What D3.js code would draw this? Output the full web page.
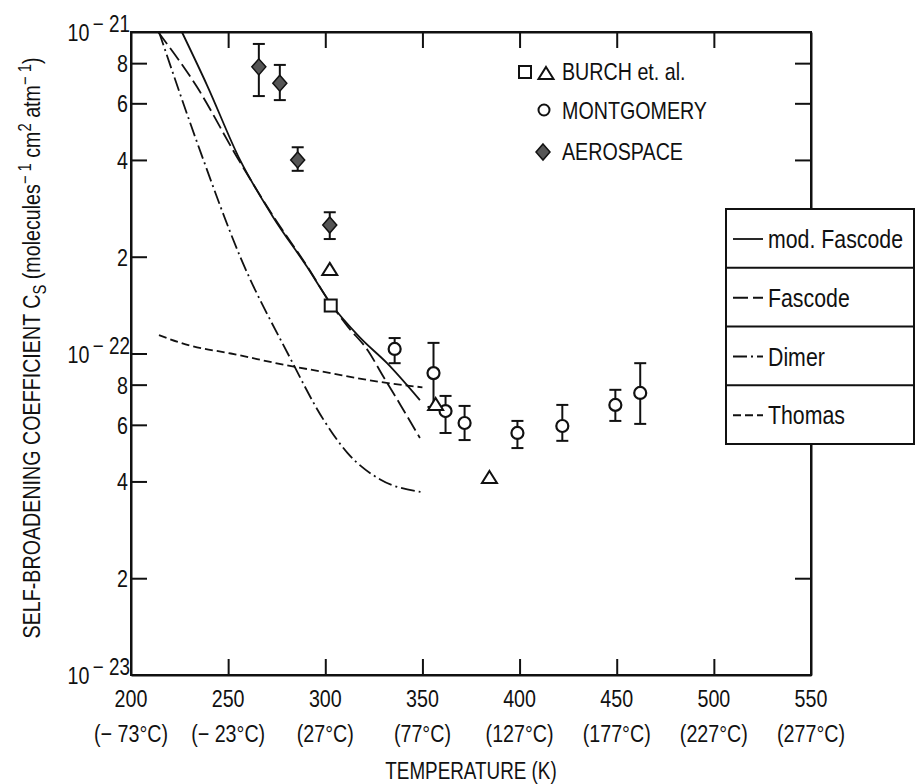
<!DOCTYPE html>
<html lang="en">
<head>
<meta charset="UTF-8">
<title>Self-broadening coefficient vs temperature</title>
<script src="https://cdn.jsdelivr.net/npm/d3@7"></script>
<style>
  body { margin: 0; background: #fff; }
  svg { display: block; }
</style>
</head>
<body>
<svg id="chart" width="916" height="784"></svg>
<script>
// ---- data (T in K, C in molecules^-1 cm^2 atm^-1) ----
var kelvinTicks = [200, 250, 300, 350, 400, 450, 500, 550];
var celsiusLabels = ["(\u2212 73\u00b0C)", "(\u2212 23\u00b0C)", "(27\u00b0C)", "(77\u00b0C)", "(127\u00b0C)", "(177\u00b0C)", "(227\u00b0C)", "(277\u00b0C)"];
var leftTicks = [1e-21, 8e-22, 6e-22, 4e-22, 2e-22, 1e-22, 8e-23, 6e-23, 4e-23, 2e-23, 1e-23];
var rightTicks = [8e-22, 6e-22, 4e-22, 2e-23];

// model curves
var modFascode = [[226.2, 1.0e-21], [239.1, 6.84e-22], [256.1, 4.0e-22], [273.1, 2.66e-22], [290.6, 1.86e-22], [302.4, 1.44e-22], [317.9, 1.12e-22], [331.8, 9.33e-23], [348.7, 7.16e-23]];
var fascode = [[214.0, 1.0e-21], [234.0, 6.74e-22], [254.6, 4.08e-22], [273.1, 2.68e-22], [290.6, 1.87e-22], [302.4, 1.44e-22], [311.7, 1.21e-22], [322.0, 1.02e-22], [329.7, 8.51e-23], [339.0, 6.87e-23], [348.7, 5.46e-23]];
var dimer = [[214.4, 1.0e-21], [236.0, 4.2e-22], [256.5, 1.98e-22], [280.7, 1.0e-22], [299.2, 6.21e-23], [311.5, 4.9e-23], [328.5, 4.05e-23], [349.0, 3.71e-23]];
var thomas = [[214.4, 1.14e-22], [230.0, 1.06e-22], [251.4, 1.0e-22], [283.8, 9.1e-23], [297.6, 8.8e-23], [328.5, 8.15e-23], [350.0, 7.85e-23]];

// measurements
var aeroT  = [265.8, 276.6, 285.8, 302.3];
var aeroC  = [7.79e-22, 6.93e-22, 4.0e-22, 2.51e-22];
var aeroLo = [6.32e-22, 6.14e-22, 3.7e-22, 2.27e-22];
var aeroHi = [9.18e-22, 7.9e-22, 4.38e-22, 2.75e-22];

var montT  = [335.7, 355.7, 361.9, 371.7, 398.9, 422.0, 449.3, 462.1];
var montC  = [1.033e-22, 8.69e-23, 6.62e-23, 6.08e-23, 5.66e-23, 5.95e-23, 6.92e-23, 7.54e-23];
var montLo = [9.33e-23, 6.82e-23, 5.66e-23, 5.38e-23, 5.08e-23, 5.35e-23, 6.17e-23, 6.04e-23];
var montHi = [1.117e-22, 1.079e-22, 7.38e-23, 6.87e-23, 6.17e-23, 6.92e-23, 7.71e-23, 9.33e-23];

var burchSquare = [[302.8, 1.41e-22]];
var burchTriangle = [[302.3, 1.82e-22], [356.8, 6.92e-23], [384.5, 4.10e-23]];

var curveNames = ["mod. Fascode", "Fascode", "Dimer", "Thomas"];
var curveDash = ["none", "15,5", "14,4,2,4", "8,4"];

// ---- setup ----
// the original lettering is a narrow face, so squeeze Liberation Sans horizontally
var FONT = '"Liberation Sans", Arial, sans-serif';
var SQ = 0.82;
var INK = "#111";
var svg = d3.select("#chart");

var x = d3.scaleLinear().domain([200, 550]).range([131, 811]);
var y = d3.scaleLog().domain([1e-23, 1e-21]).range([675, 32]);

var line = d3.line()
  .x(function(d) { return x(d[0]); })
  .y(function(d) { return y(d[1]); })
  .curve(d3.curveMonotoneX);

function label(g, px, py, size, anchor, extra) {
  return g.append("text")
    .attr("transform", "translate(" + px + "," + py + ")" + (extra || "") + " scale(" + SQ + ",1)")
    .attr("font-family", FONT).attr("font-size", size).attr("fill", INK)
    .attr("text-anchor", anchor || "start");
}

// frame
svg.append("rect")
  .attr("x", x(200)).attr("y", y(1e-21))
  .attr("width", x(550) - x(200)).attr("height", y(1e-23) - y(1e-21))
  .attr("fill", "none").attr("stroke", INK).attr("stroke-width", 2);

// axes (ticks point inward)
var axB = svg.append("g").attr("transform", "translate(0," + y(1e-23) + ")")
  .call(d3.axisBottom(x).tickValues(kelvinTicks.slice(1, -1)).tickSize(-16).tickSizeOuter(0).tickFormat(""));
var axT = svg.append("g").attr("transform", "translate(0," + y(1e-21) + ")")
  .call(d3.axisTop(x).tickValues(kelvinTicks.slice(1, -1)).tickSize(-16).tickSizeOuter(0).tickFormat(""));
var axL = svg.append("g").attr("transform", "translate(" + x(200) + ",0)")
  .call(d3.axisLeft(y).tickValues(leftTicks.slice(1, -1)).tickSize(-16).tickSizeOuter(0).tickFormat(""));
var axR = svg.append("g").attr("transform", "translate(" + x(550) + ",0)")
  .call(d3.axisRight(y).tickValues(rightTicks).tickSize(-16).tickSizeOuter(0).tickFormat(""));
[axB, axT, axL, axR].forEach(function(a) {
  a.selectAll("path").attr("stroke", INK).attr("stroke-width", 2);
  a.selectAll("line").attr("stroke", INK).attr("stroke-width", 2);
});

// x tick labels, kelvin and celsius rows
var xl = svg.append("g");
kelvinTicks.forEach(function(k, i) {
  label(xl, x(k), 707, 24, "middle").text(k);
  label(xl, x(k), 742, 24, "middle").text(celsiusLabels[i]);
});
label(xl, (x(200) + x(550)) / 2, 779, 23, "middle").text("TEMPERATURE (K)");

// y tick labels
var yl = svg.append("g");
leftTicks.forEach(function(v) {
  var e = Math.floor(Math.log10(v) + 1e-9);
  var m = Math.round(v / Math.pow(10, e));
  if (m === 1) {
    var t = label(yl, 130, y(v) + 9, 24, "end");
    t.append("tspan").text("10");
    t.append("tspan").attr("dy", -9).attr("dx", 4).attr("font-size", 23).text("\u2212 " + (-e));
  } else {
    label(yl, 128, y(v) + 9, 24, "end").text(m);
  }
});

// y title
var yt = label(svg, 40, 348, 24, "middle", " rotate(-90)");
yt.append("tspan").text("SELF-BROADENING COEFFICIENT C");
yt.append("tspan").attr("dy", 6).attr("font-size", 18).text("S");
yt.append("tspan").attr("dy", -6).text(" (molecules");
yt.append("tspan").attr("dy", -9).attr("font-size", 18).text("\u2212 1");
yt.append("tspan").attr("dy", 9).text(" cm");
yt.append("tspan").attr("dy", -9).attr("font-size", 18).text("2");
yt.append("tspan").attr("dy", 9).text(" atm");
yt.append("tspan").attr("dy", -9).attr("font-size", 18).text("\u2212 1");
yt.append("tspan").attr("dy", 9).text(")");

// model curves
var curves = [modFascode, fascode, dimer, thomas];
svg.append("g").selectAll("path").data(curves).enter().append("path")
  .attr("d", line)
  .attr("fill", "none").attr("stroke", INK).attr("stroke-width", 1.8)
  .attr("stroke-dasharray", function(d, i) { return curveDash[i]; });

// error bars helper
function errorBars(g, T, lo, hi, cap) {
  T.forEach(function(t, i) {
    var cx = x(t);
    g.append("line").attr("x1", cx).attr("x2", cx).attr("y1", y(lo[i])).attr("y2", y(hi[i]));
    g.append("line").attr("x1", cx - cap).attr("x2", cx + cap).attr("y1", y(lo[i])).attr("y2", y(lo[i]));
    g.append("line").attr("x1", cx - cap).attr("x2", cx + cap).attr("y1", y(hi[i])).attr("y2", y(hi[i]));
  });
}

var diamondPath = "M0,-8L7,0L0,8L-7,0Z";
var trianglePath = "M0,-7L7.5,5L-7.5,5Z";

// aerospace
var gA = svg.append("g").attr("stroke", INK).attr("stroke-width", 2);
errorBars(gA, aeroT, aeroLo, aeroHi, 6);
gA.selectAll("path").data(aeroT).enter().append("path")
  .attr("d", diamondPath)
  .attr("transform", function(d, i) { return "translate(" + x(d) + "," + y(aeroC[i]) + ")"; })
  .attr("fill", "#555").attr("stroke-width", 1.5);

// montgomery
var gM = svg.append("g").attr("stroke", INK).attr("stroke-width", 2);
errorBars(gM, montT, montLo, montHi, 6);
gM.selectAll("circle").data(montT).enter().append("circle")
  .attr("cx", function(d) { return x(d); })
  .attr("cy", function(d, i) { return y(montC[i]); })
  .attr("r", 6).attr("fill", "#fff").attr("stroke-width", 2.2);

// burch
var gB = svg.append("g").attr("stroke", INK).attr("stroke-width", 2).attr("fill", "#fff");
gB.selectAll("rect").data(burchSquare).enter().append("rect")
  .attr("x", function(d) { return x(d[0]) - 6; })
  .attr("y", function(d) { return y(d[1]) - 6; })
  .attr("width", 12).attr("height", 12);
gB.selectAll("path").data(burchTriangle).enter().append("path")
  .attr("d", trianglePath)
  .attr("transform", function(d) { return "translate(" + x(d[0]) + "," + y(d[1]) + ")"; });

// symbol legend (top)
var lg = svg.append("g");
lg.append("rect").attr("x", 519).attr("y", 66).attr("width", 12).attr("height", 12)
  .attr("fill", "#fff").attr("stroke", INK).attr("stroke-width", 2);
lg.append("path").attr("d", trianglePath).attr("transform", "translate(546,74)")
  .attr("fill", "#fff").attr("stroke", INK).attr("stroke-width", 2);
lg.append("circle").attr("cx", 544).attr("cy", 110).attr("r", 5.5)
  .attr("fill", "#fff").attr("stroke", INK).attr("stroke-width", 2);
lg.append("path").attr("d", diamondPath).attr("transform", "translate(543,152)")
  .attr("fill", "#555").attr("stroke", INK).attr("stroke-width", 1.5);
label(lg, 562, 80, 24).text("BURCH et. al.");
label(lg, 562, 119, 24).text("MONTGOMERY");
label(lg, 562, 160, 24).text("AEROSPACE");

// line legend box (right)
var boxTop = 209, rowH = 58.75, boxL = 726, boxW = 188;
var lb = svg.append("g");
lb.append("rect").attr("x", boxL).attr("y", boxTop).attr("width", boxW).attr("height", rowH * 4)
  .attr("fill", "#fff").attr("stroke", INK).attr("stroke-width", 2);
curveNames.forEach(function(name, i) {
  var cy = boxTop + rowH * i + 30;
  if (i > 0) {
    lb.append("line").attr("x1", boxL).attr("x2", boxL + boxW)
      .attr("y1", boxTop + rowH * i).attr("y2", boxTop + rowH * i)
      .attr("stroke", INK).attr("stroke-width", 2);
  }
  lb.append("line").attr("x1", 733).attr("x2", 763).attr("y1", cy).attr("y2", cy)
    .attr("stroke", INK).attr("stroke-width", 1.8).attr("stroke-dasharray", curveDash[i]);
  label(lb, 768, cy + 9, 26).text(name);
});
</script>
</body>
</html>
